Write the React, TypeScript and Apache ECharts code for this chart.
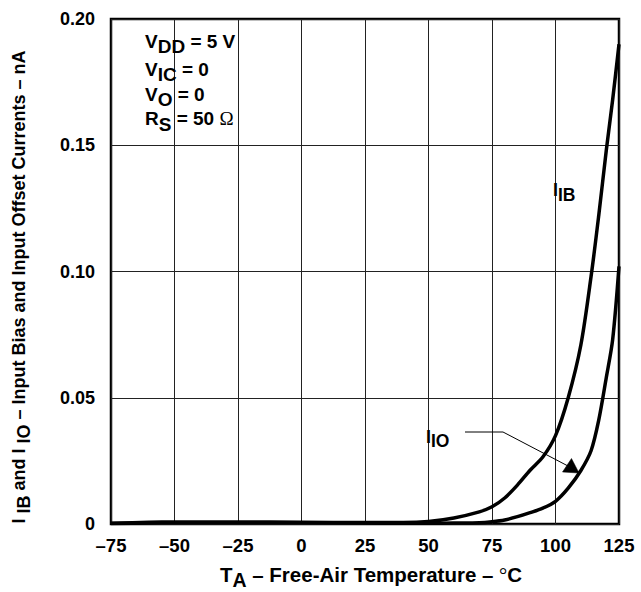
import React, { useEffect, useRef } from 'react';
import * as echarts from 'echarts';

// Free-air temperature (°C)
const temperatures = [-75, -60, -50, -25, 0, 25, 40, 50, 60, 70, 75, 80, 85, 90, 95, 100, 105, 110, 114, 117, 120, 122.5, 125];
// Input bias current IIB (nA)
const iibValues = [0.0003, 0.0007, 0.0008, 0.0008, 0.0007, 0.0006, 0.0006, 0.0010, 0.0024, 0.0048, 0.0068, 0.0103, 0.0154, 0.0213, 0.0265, 0.0350, 0.0500, 0.0710, 0.0980, 0.1220, 0.1480, 0.1680, 0.1900];
// Input offset current IIO (nA)
const iioValues = [0.0002, 0.0004, 0.0005, 0.0005, 0.0005, 0.0004, 0.0003, 0.0003, 0.0004, 0.0005, 0.0009, 0.0016, 0.0029, 0.0045, 0.0063, 0.0090, 0.0142, 0.0212, 0.0290, 0.0410, 0.0580, 0.0730, 0.1020];

const xMin = -75;
const xMax = 125;
const xStep = 25;
const yMin = 0;
const yMax = 0.2;
const yStep = 0.05;

const FONT = "'Liberation Sans', Arial, Helvetica, sans-serif";
const SERIF = "'Liberation Serif', 'Times New Roman', serif";

export default function App() {
  const ref = useRef<HTMLDivElement>(null);

  useEffect(() => {
    const chart = echarts.init(ref.current!, null, { renderer: 'svg' });

    const mk = (size: number, subSize: number, shift: number) => {
      const lh = Math.round(size * 1.15);
      return {
        m: { fontSize: size, fontWeight: 'bold', fontFamily: FONT, fill: '#000', lineHeight: lh },
        s: { fontSize: subSize, fontWeight: 'bold', fontFamily: FONT, fill: '#000', lineHeight: lh, padding: [shift * 2, 0, 0, 0] },
        o: { fontSize: size, fontWeight: 'normal', fontFamily: SERIF, fill: '#000', lineHeight: lh },
      };
    };
    const richBox = mk(19, 19, 5.5);
    const richBig = mk(18, 17.5, 4.5);
    const richX = mk(20.5, 19.5, 5);
    const richY = mk(18, 18, 5);

    const txt = (x: number, y: number, text: string, rich: any, extra: any = {}) => ({
      type: 'text',
      x,
      y,
      z: 100,
      ...extra,
      style: { text, rich, fill: '#000', align: 'left', verticalAlign: 'middle', ...(extra.style || {}) },
    });

    chart.setOption({
      animation: false,
      backgroundColor: '#fff',
      grid: {
        left: 111,
        right: 22,
        top: 19,
        bottom: 68,
        show: true,
        borderColor: '#000',
        borderWidth: 2.5,
        backgroundColor: 'transparent',
        containLabel: false,
      },
      xAxis: {
        type: 'value',
        min: xMin,
        max: xMax,
        interval: xStep,
        axisLine: { show: false },
        axisTick: { show: false },
        splitLine: { show: true, lineStyle: { color: '#222', width: 1 } },
        axisLabel: {
          margin: 12,
          fontSize: 18.5,
          fontWeight: 'bold',
          fontFamily: FONT,
          color: '#000',
          formatter: (v: number) => (v < 0 ? '\u2013' + String(-v) : String(v)),
        },
      },
      yAxis: {
        type: 'value',
        min: yMin,
        max: yMax,
        interval: yStep,
        axisLine: { show: false },
        axisTick: { show: false },
        splitLine: { show: true, lineStyle: { color: '#222', width: 1 } },
        axisLabel: {
          margin: 16,
          fontSize: 18,
          fontWeight: 'bold',
          fontFamily: FONT,
          color: '#000',
          formatter: (v: number) => (v === 0 ? '0' : v.toFixed(2)),
        },
      },
      series: [
        {
          name: 'IIB',
          type: 'line',
          data: temperatures.map((t, i) => [t, iibValues[i]]),
          showSymbol: false,
          symbol: 'none',
          smooth: 0.3,
          lineStyle: { color: '#000', width: 3.5 },
          z: 5,
        },
        {
          name: 'IIO',
          type: 'line',
          data: temperatures.map((t, i) => [t, iioValues[i]]),
          showSymbol: false,
          symbol: 'none',
          smooth: 0.3,
          lineStyle: { color: '#000', width: 3.5 },
          z: 5,
        },
      ],
      graphic: [
        txt(145, 41, '{m|V}{s|DD}{m| = 5 V}', richBox),
        txt(145, 69, '{m|V}{s|IC}{m| = 0}', richBox),
        txt(145, 94, '{m|V}{s|O}{m| = 0}', richBox),
        txt(145, 118.5, '{m|R}{s|S}{m| = 50 }{o|\u03A9}', richBox),
        txt(553, 190, '{m|I}{s|IB}', richBig),
        txt(426, 436.5, '{m|I}{s|IO}', richBig),
        {
          type: 'polyline',
          z: 100,
          shape: { points: [[465, 432], [503, 432], [568, 466]] },
          style: { stroke: '#000', lineWidth: 1, fill: null },
        },
        {
          type: 'polygon',
          z: 100,
          shape: { points: [[579, 473], [562.5, 472], [571.5, 458.5]] },
          style: { fill: '#000', stroke: '#000', lineWidth: 0.5 },
        },
        txt(371, 574.5, '{m|T}{s|A}{m| \u2013 Free-Air Temperature \u2013 }{o|\u00B0}{m|C}', richX, {
          style: { align: 'center' },
        }),
        txt(19, 287, '{m|I }{s|IB}{m| and I }{s|IO}{m| \u2013 Input Bias and Input Offset Currents \u2013 nA}', richY, {
          rotation: Math.PI / 2,
          style: { align: 'center' },
        }),
      ],
    });

    return () => chart.dispose();
  }, []);

  return (
    <div
      ref={ref}
      style={{ position: 'fixed', left: 0, top: 0, width: 641, height: 592, background: '#fff' }}
    />
  );
}
